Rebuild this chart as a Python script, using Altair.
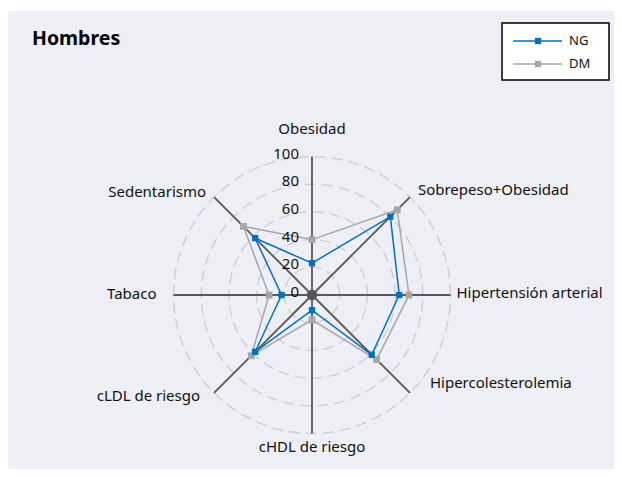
import math
import altair as alt
import pandas as pd

# ---------------- data ----------------
categories = ["Obesidad", "Sobrepeso+Obesidad", "Hipertensión arterial", "Hipercolesterolemia",
              "cHDL de riesgo", "cLDL de riesgo", "Tabaco", "Sedentarismo"]
ng_values = [23, 80, 63, 61, 11, 58, 22, 58]
dm_values = [40, 87, 70, 66, 18, 62, 31, 70]
series_names = ["NG", "DM"]
series_colors = ["#0070C0", "#A6A6A6"]
ticks = [0, 20, 40, 60, 80, 100]
rmax = 100
title_text = "Hombres"

# ---------------- geometry helpers ----------------
P = 1.385            # pixels per value unit
W, H = 606, 461      # plot size (fits the window with the 8px page margin)
CX, CY = 304, 287    # centre in plot pixels
xdom = [-CX / P, (W - CX) / P]
ydom = [-(H - CY) / P, CY / P]
xs = alt.Scale(domain=xdom, nice=False, zero=False)
ys = alt.Scale(domain=ydom, nice=False, zero=False)


def ang(i):
    return math.radians(90 - 45 * i)


# rings
ring_rows = []
for lv in ticks[1:]:
    for k in range(0, 73):
        a = math.radians(k * 5)
        ring_rows.append({"lv": lv, "k": k, "x": lv * math.cos(a), "y": lv * math.sin(a)})
rings = pd.DataFrame(ring_rows)

# spokes
spokes = pd.DataFrame([{"x": 0.0, "y": 0.0, "x2": rmax * math.cos(ang(i)), "y2": rmax * math.sin(ang(i))}
                       for i in range(len(categories))])

# series
srows = []
for s, vals in zip(series_names, [ng_values, dm_values]):
    n = len(vals)
    for j in range(n + 1):
        i = j % n
        srows.append({"s": s, "k": j, "cat": categories[i], "v": vals[i],
                      "x": vals[i] * math.cos(ang(i)), "y": vals[i] * math.sin(ang(i))})
sdf = pd.DataFrame(srows)

# category labels (style offsets in pixels)
label_style = {
    "Obesidad": ("center", 0, -28),
    "Sobrepeso+Obesidad": ("left", 8, -7),
    "Hipertensión arterial": ("left", 6, -2),
    "Hipercolesterolemia": ("left", 20, -10),
    "cHDL de riesgo": ("center", 0, 13),
    "cLDL de riesgo": ("right", -14, 3),
    "Tabaco": ("right", -17, -1),
    "Sedentarismo": ("right", -8, -5),
}
lrows = []
for i, c in enumerate(categories):
    al, dx, dy = label_style[c]
    lrows.append({"cat": c, "al": al,
                  "x": rmax * math.cos(ang(i)) + dx / P,
                  "y": rmax * math.sin(ang(i)) - dy / P})
ldf = pd.DataFrame(lrows)

tdf = pd.DataFrame({"t": ticks, "x": [-13 / P] * len(ticks), "y": ticks})

FONT = "Noto Sans"

base = alt.Chart(pd.DataFrame({"a": [0]}))

bg = base.mark_rect(fill="#EEEEF6").encode(
    x=alt.value(-1), x2=alt.value(W), y=alt.value(3), y2=alt.value(H))

ring_layer = alt.Chart(rings).mark_line(color="#CDCDCD", strokeWidth=1.3, strokeDash=[11, 6]).encode(
    x=alt.X("x:Q", scale=xs, axis=None), y=alt.Y("y:Q", scale=ys, axis=None),
    detail="lv:N", order="k:Q")

spoke_layer = alt.Chart(spokes).mark_rule(color="#595959", strokeWidth=1.8).encode(
    x=alt.X("x:Q", scale=xs, axis=None), y=alt.Y("y:Q", scale=ys, axis=None),
    x2="x2:Q", y2="y2:Q")

layers = [bg, ring_layer, spoke_layer]

for s, col, sz in [("DM", series_colors[1], 46), ("NG", series_colors[0], 40)]:
    d = sdf[sdf.s == s]
    layers.append(alt.Chart(d).mark_line(color=col, strokeWidth=1.5).encode(
        x=alt.X("x:Q", scale=xs, axis=None), y=alt.Y("y:Q", scale=ys, axis=None), order="k:Q"))
for s, col, sz in [("DM", series_colors[1], 46), ("NG", series_colors[0], 40)]:
    d = sdf[(sdf.s == s) & (sdf.k < len(categories))]
    layers.append(alt.Chart(d).mark_square(color=col, size=sz, opacity=1).encode(
        x=alt.X("x:Q", scale=xs, axis=None), y=alt.Y("y:Q", scale=ys, axis=None)))

centre = alt.Chart(pd.DataFrame({"x": [0.0], "y": [0.0]})).mark_circle(color="#555555", size=110, opacity=1).encode(
    x=alt.X("x:Q", scale=xs, axis=None), y=alt.Y("y:Q", scale=ys, axis=None))
layers.append(centre)

tick_layer = alt.Chart(tdf).mark_text(align="right", baseline="middle", dy=-3, fontSize=15,
                                       font=FONT, color="#111111").encode(
    x=alt.X("x:Q", scale=xs, axis=None), y=alt.Y("y:Q", scale=ys, axis=None), text="t:Q")
layers.append(tick_layer)

for al in ["left", "center", "right"]:
    d = ldf[ldf.al == al]
    layers.append(alt.Chart(d).mark_text(align=al, baseline="middle", fontSize=15,
                                         font=FONT, color="#111111").encode(
        x=alt.X("x:Q", scale=xs, axis=None), y=alt.Y("y:Q", scale=ys, axis=None), text="cat:N"))

title = base.mark_text(text=title_text, align="left", baseline="alphabetic", fontSize=19.5,
                       fontWeight="bold", font=FONT, color="#000000").encode(
    x=alt.value(24), y=alt.value(37))
layers.append(title)

# legend
legend_box = base.mark_rect(fill="#FFFFFF", stroke="#000000", strokeWidth=1.5).encode(
    x=alt.value(494), x2=alt.value(601), y=alt.value(15), y2=alt.value(72))
layers.append(legend_box)
for k, (s, col) in enumerate(zip(series_names, series_colors)):
    yy = 33 + 23 * k
    layers.append(base.mark_rule(color=col, strokeWidth=1.5).encode(
        x=alt.value(505), x2=alt.value(554), y=alt.value(yy)))
    layers.append(base.mark_square(color=col, size=40, opacity=1).encode(
        x=alt.value(530), y=alt.value(yy)))
    layers.append(base.mark_text(text=s, align="left", baseline="middle", fontSize=13,
                                 font=FONT, color="#111111").encode(
        x=alt.value(561), y=alt.value(yy)))

chart = alt.layer(*layers).properties(
    width=W, height=H, padding=0, autosize=alt.AutoSizeParams(type="none"),
    background="#FFFFFF"
).configure_view(stroke=None)

chart.save("out.html", embed_options={"renderer": "svg", "actions": False})
